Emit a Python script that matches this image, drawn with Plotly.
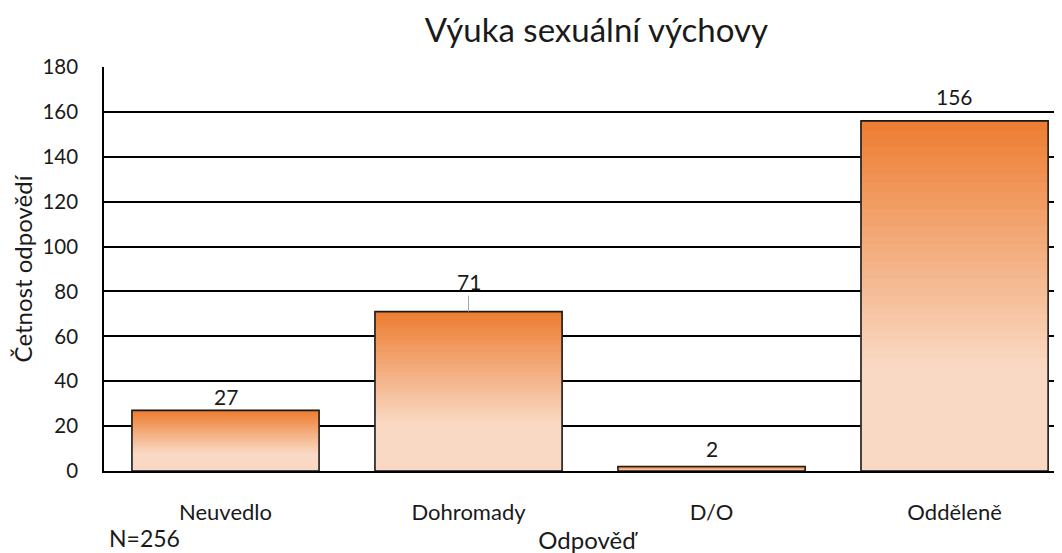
import plotly.graph_objects as go

categories = ["Neuvedlo", "Dohromady", "D/O", "Odděleně"]
counts = [27, 71, 2, 156]
y_ticks = [0, 20, 40, 60, 80, 100, 120, 140, 160, 180]

FONT = "Lato, 'Open Sans', sans-serif"
DARK = (237, 125, 49)
LIGHT = (249, 217, 196)
N_STEPS = 40


def grad_color(t):
    # t: 0 at bar bottom, 1 at bar top; light until 30 %, then fades to dark
    if t <= 0.3:
        f = 0.0
    else:
        f = (t - 0.3) / 0.7
    c = [round(LIGHT[i] + (DARK[i] - LIGHT[i]) * f) for i in range(3)]
    return "rgb(%d,%d,%d)" % tuple(c)


fig = go.Figure()

# gradient fill: each bar stacked out of thin slices
for k in range(N_STEPS):
    col = grad_color((k + 0.5) / N_STEPS)
    fig.add_trace(go.Bar(
        x=categories,
        y=[v / N_STEPS for v in counts],
        base=[v * k / N_STEPS for v in counts],
        marker=dict(color=col, line=dict(color=col, width=1)),
        hoverinfo="skip",
        showlegend=False,
    ))

# outline on top
fig.add_trace(go.Bar(
    x=categories,
    y=counts,
    marker=dict(color="rgba(0,0,0,0)", line=dict(color="#1a1a1a", width=1.6)),
    showlegend=False,
))

label_shift = {"Neuvedlo": 14, "Dohromady": 30, "D/O": 18, "Odděleně": 24}
for cat, v in zip(categories, counts):
    if cat == "Dohromady":
        fig.add_annotation(x=cat, y=v, text=str(v), showarrow=True,
                           ax=0, ay=-label_shift[cat], arrowhead=0,
                           arrowwidth=1, arrowcolor="#a6a6a6", standoff=0,
                           font=dict(size=21, color="#1a1a1a"))
    else:
        fig.add_annotation(x=cat, y=v, text=str(v), showarrow=False,
                           yshift=label_shift[cat],
                           font=dict(size=21, color="#1a1a1a"))

fig.add_annotation(text="N=256", xref="paper", yref="paper",
                   x=0.0424, y=-0.125, xanchor="center", yanchor="top",
                   showarrow=False, font=dict(size=23, color="#1a1a1a"))

fig.update_xaxes(
    range=[-0.5, 3.475],
    showline=True, linecolor="black", linewidth=1.5,
    showgrid=False, ticks="", ticklabelstandoff=21,
    tickfont=dict(size=22, color="#1a1a1a"),
    title=dict(text="Odpověď", font=dict(size=24, color="#1a1a1a"), standoff=8),
)
fig.update_yaxes(
    range=[0, 180], tickvals=y_ticks,
    showline=True, linecolor="black", linewidth=1.5,
    showgrid=True, gridcolor="black", gridwidth=1.5,
    zeroline=False, ticks="", ticklabelstandoff=20,
    tickfont=dict(size=20.5, color="#1a1a1a"),
    title=dict(text="Četnost odpovědí", font=dict(size=24, color="#1a1a1a"), standoff=10),
)

fig.update_layout(
    width=1062, height=553,
    margin=dict(l=96, r=0, t=59, b=90, autoexpand=False),
    barmode="overlay", bargap=0.23,
    paper_bgcolor="white", plot_bgcolor="white",
    font=dict(family=FONT, color="#1a1a1a"),
    title=dict(text="Výuka sexuální výchovy", x=0.554, xanchor="center",
               y=0.96, yanchor="middle", font=dict(size=33, color="#1a1a1a")),
)

fig.write_html("out.html")
